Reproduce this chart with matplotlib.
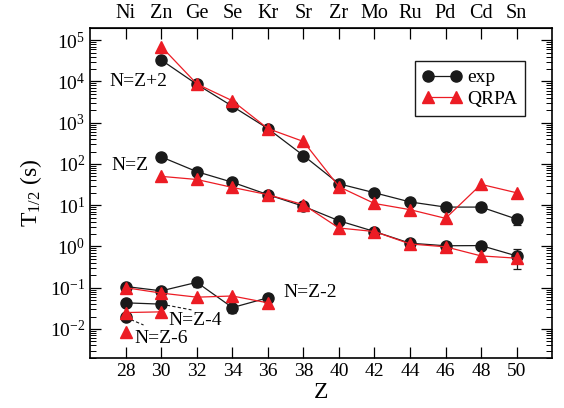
import numpy as np
import matplotlib
matplotlib.use('Agg')
import matplotlib.pyplot as plt
from matplotlib.lines import Line2D
from matplotlib.ticker import LogLocator, NullFormatter

plt.rcParams['font.family'] = ['Liberation Serif', 'DejaVu Serif']
plt.rcParams['mathtext.fontset'] = 'custom'
plt.rcParams['mathtext.rm'] = 'Liberation Serif'
plt.rcParams['mathtext.it'] = 'Liberation Serif:italic'

elementos = ['Ni', 'Zn', 'Ge', 'Se', 'Kr', 'Sr', 'Zr', 'Mo', 'Ru', 'Pd', 'Cd', 'Sn']
z_ticks = [28, 30, 32, 34, 36, 38, 40, 42, 44, 46, 48, 50]

# N = Z + 2
z_p2 = [30, 32, 34, 36, 38, 40, 42, 44, 46, 48, 50]
exp_p2 = [3.3e4, 8.5e3, 2.5e3, 720, 160, 33, 20, 12, 9.0, 9.0, 4.6]
err_p2 = [0, 0, 0, 0, 0, 0, 0, 0, 0, 0, 1.3]
qrpa_p2 = [7.0e4, 8.7e3, 3.4e3, 720, 350, 28, 11, 7.8, 4.8, 32, 20]

# N = Z
z_0 = [30, 32, 34, 36, 38, 40, 42, 44, 46, 48, 50]
exp_0 = [148, 65, 36, 18, 9.4, 4.2, 2.3, 1.2, 1.04, 1.05, 0.59]
err_0 = [0, 0, 0, 0, 0, 0, 0, 0, 0, 0, 0.3]
qrpa_0 = [50, 42, 27, 18, 10.3, 2.8, 2.3, 1.15, 0.98, 0.59, 0.52]

# N = Z - 2
z_m2 = [28, 30, 32, 34, 36]
exp_m2 = [0.107, 0.084, 0.135, 0.033, 0.057]
err_m2 = [0.01, 0.01, 0.03, 0.008, 0.012]
qrpa_m2 = [0.10, 0.074, 0.059, 0.063, 0.043]

# N = Z - 4
z_m4 = [28, 30]
exp_m4 = [0.043, 0.040]
qrpa_m4 = [0.025, 0.026]

# N = Z - 6
z_m6 = [28]
exp_m6 = [0.019]
qrpa_m6 = [0.0085]

negro = '#1a1a1a'
rojo = '#ec1c24'

fig = plt.figure(figsize=(5.64, 4.08), dpi=100)
ax = fig.add_axes([0.16, 0.123, 0.819, 0.809])

estilo_exp = dict(color=negro, marker='o', markersize=8, lw=0.9)
estilo_qrpa = dict(color=rojo, marker='^', markersize=8, lw=0.9)

series = [
    (z_p2, exp_p2, err_p2, qrpa_p2),
    (z_0, exp_0, err_0, qrpa_0),
    (z_m2, exp_m2, err_m2, qrpa_m2),
    (z_m4, exp_m4, None, qrpa_m4),
    (z_m6, exp_m6, None, qrpa_m6),
]
for z, e, err, q in series:
    ax.errorbar(z, e, yerr=err, capsize=3, elinewidth=0.9, capthick=0.9,
                zorder=3, **estilo_exp)
    ax.plot(z, q, zorder=4, **estilo_qrpa)

# lineas guia hacia las etiquetas
ax.plot([30, 31.7], [exp_m4[1], 0.029], color=negro, lw=0.8, dashes=(3, 2))
ax.plot([28, 29.0], [exp_m6[0], 0.0125], color=negro, lw=0.8, dashes=(3, 2))

fs_lab = 14
ax.text(27.1, 1.0e4, 'N=Z+2', fontsize=fs_lab, va='center', ha='left')
ax.text(27.2, 90, 'N=Z', fontsize=fs_lab, va='center', ha='left')
ax.text(36.9, 0.076, 'N=Z-2', fontsize=fs_lab, va='center', ha='left')
ax.text(30.4, 0.0165, 'N=Z-4', fontsize=fs_lab, va='center', ha='left')
ax.text(28.5, 0.0058, 'N=Z-6', fontsize=fs_lab, va='center', ha='left')

ax.set_yscale('log')
ax.set_xlim(26, 52)
ax.set_ylim(2e-3, 2e5)
ax.set_xticks(z_ticks)
ax.yaxis.set_major_locator(LogLocator(base=10, numticks=20))
ax.yaxis.set_minor_locator(LogLocator(base=10, subs=np.arange(2, 10), numticks=20))
ax.yaxis.set_minor_formatter(NullFormatter())
ax.tick_params(axis='both', which='major', direction='in', length=8, width=0.9,
               labelsize=14, right=True, top=False)
ax.tick_params(axis='y', which='minor', direction='in', length=4, width=0.7, right=True)
ax.tick_params(axis='x', which='minor', bottom=False, top=False)

sec = ax.secondary_xaxis('top')
sec.set_xticks(z_ticks, labels=elementos)
sec.tick_params(direction='in', length=8, width=0.9, labelsize=14.5)

for sp in ax.spines.values():
    sp.set_linewidth(1.2)

ax.set_xlabel('Z', fontsize=17, labelpad=2)
ax.set_ylabel(r'T$_{1/2}$ (s)', fontsize=17)

handles = [Line2D([], [], **estilo_exp), Line2D([], [], **estilo_qrpa)]
leg = ax.legend(handles, ['exp', 'QRPA'], loc='upper right',
                bbox_to_anchor=(0.942, 0.899), borderaxespad=0,
                numpoints=2, fontsize=14, fancybox=False, framealpha=1,
                edgecolor=negro, handlelength=2.0, handletextpad=0.3,
                borderpad=0.4, labelspacing=0.2)
leg.get_frame().set_linewidth(1.0)

fig.savefig('out.png', dpi=100)
